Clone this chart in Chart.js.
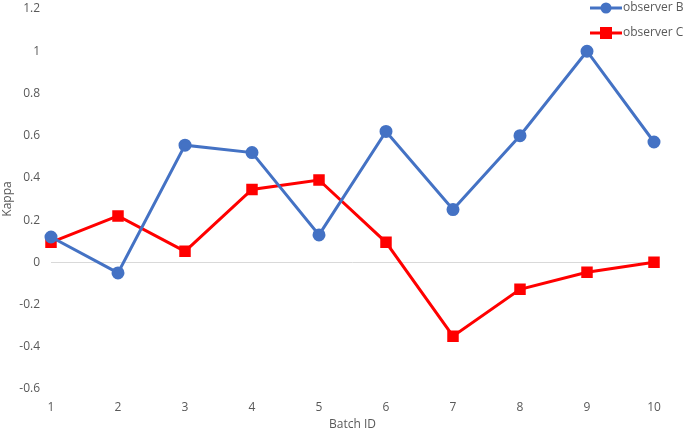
<!DOCTYPE html>
<html>
<head>
<meta charset="utf-8">
<script src="https://cdn.jsdelivr.net/npm/chart.js@4/dist/chart.umd.min.js"></script>
<style>
  html, body { margin: 0; padding: 0; background: #fff; }
  #wrap { width: 685px; height: 432px; position: relative; }
</style>
</head>
<body>
<div id="wrap"><canvas id="chart"></canvas></div>
<script>
const batches = ['1', '2', '3', '4', '5', '6', '7', '8', '9', '10'];
const observerB = [0.12, -0.05, 0.555, 0.52, 0.13, 0.62, 0.25, 0.60, 1.0, 0.57];
const observerC = [0.095, 0.22, 0.052, 0.345, 0.39, 0.095, -0.35, -0.128, -0.047, 0.0];
const yTicks = [-0.6, -0.4, -0.2, 0, 0.2, 0.4, 0.6, 0.8, 1, 1.2];

const BLUE = '#4472C4';
const RED = '#FF0000';
const FONT = "'Open Sans', 'Liberation Sans', sans-serif";
const TEXT = '#595959';

// legend drawn top right, overlapping the plot like the original
const cornerLegend = {
  id: 'cornerLegend',
  afterDraw(chart) {
    const ctx = chart.ctx;
    const items = [
      { label: 'observer B', color: BLUE, shape: 'circle', y: 8 },
      { label: 'observer C', color: RED, shape: 'square', y: 33 },
    ];
    ctx.save();
    items.forEach(it => {
      ctx.strokeStyle = it.color;
      ctx.fillStyle = it.color;
      ctx.lineWidth = 3;
      ctx.beginPath();
      ctx.moveTo(590, it.y);
      ctx.lineTo(622, it.y);
      ctx.stroke();
      if (it.shape === 'circle') {
        ctx.beginPath();
        ctx.arc(606, it.y, 5.5, 0, Math.PI * 2);
        ctx.fill();
      } else {
        ctx.fillRect(600, it.y - 6, 12, 12);
      }
      ctx.fillStyle = TEXT;
      ctx.font = '12px ' + FONT;
      ctx.textBaseline = 'middle';
      ctx.textAlign = 'left';
      ctx.fillText(it.label, 623, it.y);
    });
    ctx.restore();
  }
};

new Chart(document.getElementById('chart'), {
  type: 'line',
  data: {
    labels: batches,
    datasets: [
      {
        label: 'observer B',
        data: observerB,
        borderColor: BLUE,
        backgroundColor: BLUE,
        borderWidth: 3,
        pointStyle: 'circle',
        pointRadius: 5,
        pointHoverRadius: 5,
        tension: 0,
      },
      {
        label: 'observer C',
        data: observerC,
        borderColor: RED,
        backgroundColor: RED,
        borderWidth: 3,
        pointStyle: 'rect',
        pointRadius: 6,
        pointHoverRadius: 6,
        tension: 0,
      },
    ],
  },
  options: {
    responsive: true,
    maintainAspectRatio: false,
    animation: false,
    layout: { padding: { top: 9, right: 31, left: 0, bottom: 0 } },
    plugins: {
      legend: { display: false },
      tooltip: { enabled: false },
    },
    scales: {
      x: {
        offset: false,
        grid: { display: false },
        border: { display: false },
        ticks: { color: TEXT, font: { family: FONT, size: 12 }, padding: 3, maxRotation: 0 },
        title: { display: true, text: 'Batch ID', color: TEXT, font: { family: FONT, size: 12 }, padding: { top: 1, bottom: 0 } },
        afterFit: scale => { scale.height = 43; scale.paddingLeft = 0; scale.paddingRight = 0; },
      },
      y: {
        min: -0.6,
        max: 1.2,
        afterBuildTicks: scale => { scale.ticks = yTicks.map(v => ({ value: v })); },
        grid: {
          drawTicks: false,
          color: ctx => (ctx.tick && ctx.tick.value === 0 ? '#d9d9d9' : 'rgba(0,0,0,0)'),
          lineWidth: 1,
        },
        border: { display: false },
        ticks: {
          color: TEXT,
          font: { family: FONT, size: 12 },
          padding: 11,
          callback: v => String(Math.round(v * 10) / 10),
        },
        title: { display: true, text: 'Kappa', color: TEXT, font: { family: FONT, size: 12 }, padding: { top: 0, bottom: 0 } },
        afterFit: scale => { scale.width = 51; scale.paddingTop = 0; scale.paddingBottom = 0; },
      },
    },
  },
  plugins: [cornerLegend],
});
</script>
</body>
</html>
